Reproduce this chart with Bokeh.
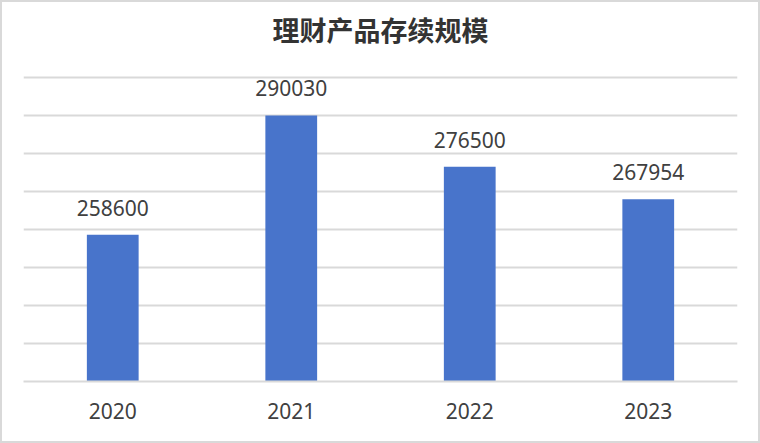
from bokeh.plotting import figure
from bokeh.models import ColumnDataSource, FixedTicker, Range1d, Label
from bokeh.core.properties import value
from bokeh.embed import file_html
from bokeh.resources import INLINE

years = ["2020", "2021", "2022", "2023"]
scale = [258600, 290030, 276500, 267954]
labels = [str(v) for v in scale]
grid_ticks = [220000, 230000, 240000, 250000, 260000, 270000, 280000, 290000, 300000]
title_text = "理财产品存续规模"

src = ColumnDataSource(dict(year=years, val=scale, lab=labels))

# frame: 379 px tall, 3.8 px per 1000
p = figure(x_range=years, y_range=Range1d(220000, 319737),
           width=760, height=443, output_backend="svg", toolbar_location=None,
           min_border_left=21, min_border_right=25, min_border_top=0, min_border_bottom=64)
p.outline_line_color = None
p.background_fill_color = "white"
p.border_fill_color = "white"
p.styles = {"border": "2px solid #d9d9d9", "box-sizing": "border-box"}

p.vbar(x="year", top="val", bottom=220000, width=0.29, source=src,
       fill_color="#4874cb", line_color=None)
p.text(x="year", y="val", text="lab", source=src, text_align="center",
       text_baseline="alphabetic", y_offset=-27, text_font=value("Noto Sans"),
       text_font_size="21px", text_color="#404040")

p.yaxis.visible = False
p.ygrid.ticker = FixedTicker(ticks=grid_ticks)
p.ygrid.grid_line_color = "#d9d9d9"
p.ygrid.grid_line_width = 2
p.xgrid.visible = False

ax = p.xaxis[0]
ax.axis_line_color = "#d9d9d9"
ax.axis_line_width = 2
ax.major_tick_line_color = None
ax.minor_tick_line_color = None
ax.major_label_standoff = 15
ax.major_label_text_font = "Noto Sans"
ax.major_label_text_font_size = "21px"
ax.major_label_text_color = "#404040"
p.x_range.range_padding = 0

p.add_layout(Label(x=2, y=312632, text=title_text, text_align="center",
                   text_baseline="middle", text_font="Noto Sans CJK SC",
                   text_font_size="27px", text_font_style="bold",
                   text_color="#333333"))

open("out.html", "w").write(file_html(p, INLINE))
